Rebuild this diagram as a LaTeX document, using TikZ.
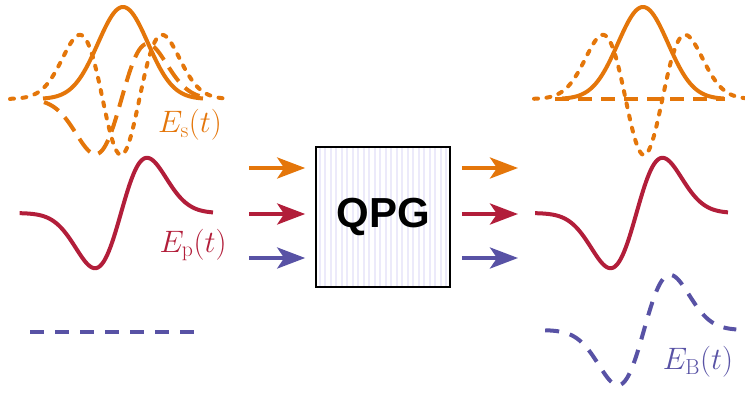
\RequirePackage{fix-cm}
\documentclass[tikz,border=0pt]{standalone}
\usepackage{fontspec}
\newfontfamily\qpgfont{Liberation Sans}
\usetikzlibrary{arrows.meta}
\definecolor{sig}{RGB}{228,118,10}
\definecolor{pmp}{RGB}{178,30,58}
\definecolor{bsm}{RGB}{88,82,165}
\definecolor{stripe}{RGB}{236,234,250}

\begin{document}
\begin{tikzpicture}[x=1pt,y=-1pt,
  wave/.style={line width=4pt, samples=140, smooth},
  longdash/.style={dash pattern=on 17pt off 9pt},
  bluedash/.style={dash pattern=on 14pt off 11pt},
  shortdash/.style={dash pattern=on 4pt off 8.5pt, line cap=round},
  arr/.style={line width=4pt, -{Stealth[length=28pt,width=21pt,inset=7pt]}},
  lbl/.style={font=\fontsize{31}{36}\selectfont, inner sep=0pt},
  gate/.style={draw=black, line width=1.6pt, fill=white, minimum width=134pt,
    minimum height=140pt, inner sep=0pt,
    font=\qpgfont\bfseries\fontsize{42}{48}\selectfont,
    path picture={
      \foreach \k in {0,...,24}
        \draw[stripe, line width=2pt]
          ([xshift={3.5pt+\k*5.5pt}]path picture bounding box.south west) --
          ([xshift={3.5pt+\k*5.5pt}]path picture bounding box.north west);
    }}
]
\useasboundingbox (0,0) rectangle (745,392);

% The plots run over the scaled time u; the horizontal scale is 26pt per unit.
% ---- input pulses ----
% signal: Hermite-Gaussian modes 0 (solid), 1 (dashed), 2 (dotted)
\draw[wave, sig, shortdash] plot[domain=-4.27:4.23]
  ({121+26*\x}, {99-56*(2*\x*\x-1)*exp(-\x*\x/2)});
\draw[wave, sig, longdash] plot[domain=-2.98:3.0]
  ({121.5+26*\x}, {99-91*\x*exp(-\x*\x/2)});
\draw[wave, sig] plot[domain=-3.2:3.2]
  ({123+25*\x}, {99-92*exp(-\x*\x/2)});
\node[lbl, text=sig] (Es) at (190,125) {$E_{\mathrm{s}}(t)$};

% pump
\draw[wave, pmp] plot[domain=-3.9:3.54]
  ({121+26*\x}, {213-91*\x*exp(-\x*\x/2)});
\node[lbl, text=pmp] (Ep) at (193,245) {$E_{\mathrm{p}}(t)$};

% empty output mode
\coordinate (bL0) at (30,332);
\coordinate (bL1) at (200,332);
\draw[wave, bsm, bluedash] (bL0) -- (bL1);

% ---- gate ----
\node[gate] (qpg) at (383,217) {QPG};
\coordinate (inEdge) at ([xshift=-10pt]qpg.west);
\coordinate (outEdge) at ([xshift=11pt]qpg.east);

\coordinate (sIn) at (249,168);
\coordinate (pIn) at (249,214);
\coordinate (bIn) at (249,258);
\coordinate (sOut) at (518,168);
\coordinate (pOut) at (518,214);
\coordinate (bOut) at (518,258);

\draw[arr, sig] (sIn) -- (sIn -| inEdge);
\draw[arr, pmp] (pIn) -- (pIn -| inEdge);
\draw[arr, bsm] (bIn) -- (bIn -| inEdge);
\draw[arr, sig] (sOut -| outEdge) -- (sOut);
\draw[arr, pmp] (pOut -| outEdge) -- (pOut);
\draw[arr, bsm] (bOut -| outEdge) -- (bOut);

% ---- output pulses ----
\draw[wave, sig, shortdash] plot[domain=-4.23:3.88]
  ({644+26*\x}, {99-56*(2*\x*\x-1)*exp(-\x*\x/2)});
\coordinate (sR0) at (555,99);
\coordinate (sR1) at (725,99);
\draw[wave, sig, dash pattern=on 14pt off 9pt] (sR0) -- (sR1);
\draw[wave, sig] plot[domain=-3.24:3.24]
  ({643+25*\x}, {99-92*exp(-\x*\x/2)});

\draw[wave, pmp] plot[domain=-3.9:3.52]
  ({636.5+26*\x}, {213-91*\x*exp(-\x*\x/2)});

\draw[wave, bsm, bluedash] plot[domain=-3.8:3.55]
  ({644+26*\x}, {330-91*\x*exp(-\x*\x/2)});
\node[lbl, text=bsm] (EB) at (698,362) {$E_{\mathrm{B}}(t)$};
\end{tikzpicture}
\end{document}
